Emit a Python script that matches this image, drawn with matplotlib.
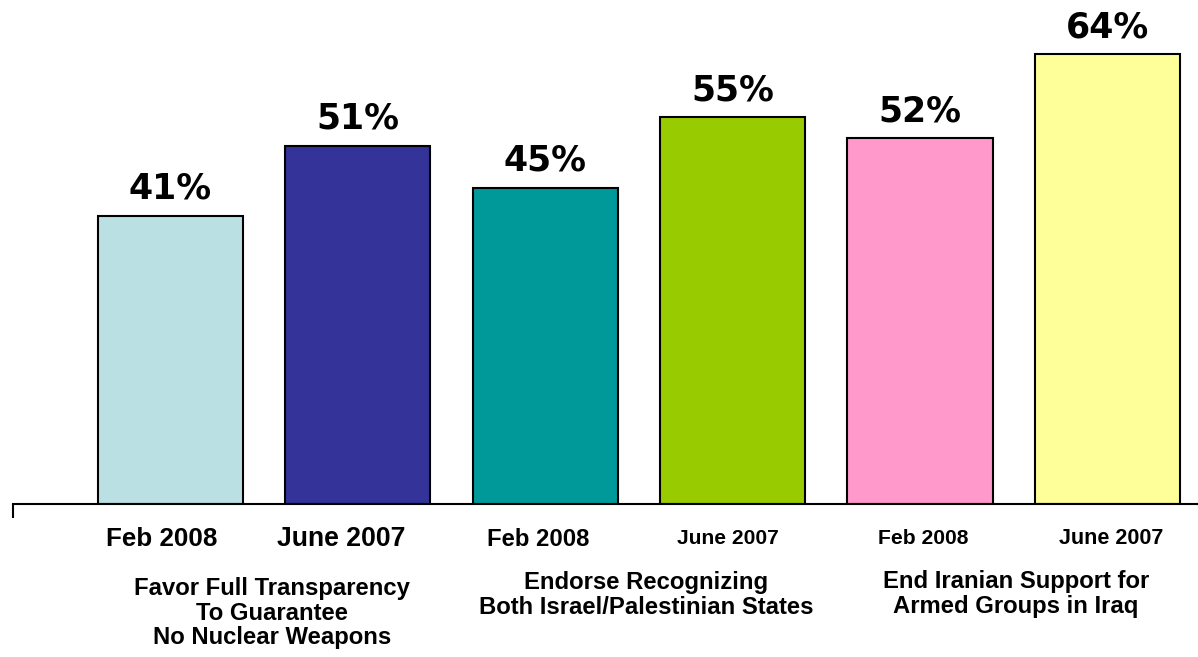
import os
import matplotlib.pyplot as plt
from matplotlib import font_manager as fm
from matplotlib.ticker import FixedLocator

# survey results, percent
periods = ["Feb 2008", "June 2007", "Feb 2008", "June 2007", "Feb 2008", "June 2007"]
values = [41, 51, 45, 55, 52, 64]
groups = [
    "Favor Full Transparency\nTo Guarantee\nNo Nuclear Weapons",
    "Endorse Recognizing\nBoth Israel/Palestinian States",
    "End Iranian Support for\nArmed Groups in Iraq",
]

colors = ["#BBE0E3", "#333399", "#009999", "#99CC00", "#FF99CC", "#FFFF99"]
period_sizes = [18.7, 19.2, 17.2, 15.1, 15.2, 15.5]
period_shift = [-0.047, -0.087, -0.039, -0.025, 0.017, 0.02]

# pick the regular-width Liberation Sans Bold
bold_file = None
for f in fm.findSystemFonts():
    if os.path.basename(f) == "LiberationSans-Bold.ttf":
        bold_file = f
        break


def bold(size):
    if bold_file:
        return fm.FontProperties(fname=bold_file, size=size)
    return fm.FontProperties(family="DejaVu Sans", weight="bold", size=size)


W, H = 1198, 657
fig = plt.figure(figsize=(W / 100, H / 100), dpi=100)
ax = fig.add_axes([13 / W, 153 / H, (W - 13) / W, 504 / H])

x = list(range(len(values)))
bars = ax.bar(x, values, width=0.775, color=colors, edgecolor="black", linewidth=1.5)

for bar, v in zip(bars, values):
    ax.annotate(f"{v}%", (bar.get_x() + bar.get_width() / 2, v),
                xytext=(0, 19.5), textcoords="offset points",
                ha="center", va="center", fontsize=25, fontweight="bold",
                family="DejaVu Sans")

ax.set_xlim(-0.84, 5.483)
ax.set_ylim(0, 71.7)

for s in ["top", "right", "left"]:
    ax.spines[s].set_visible(False)
ax.spines["bottom"].set_linewidth(1.5)
ax.set_yticks([])

ax.set_xticks([])
ax.xaxis.set_minor_locator(FixedLocator([-0.84]))
ax.tick_params(axis="x", which="minor", length=10, width=1.5, direction="out")

trans = ax.get_xaxis_transform()
for i, (lab, fs, dx) in enumerate(zip(periods, period_sizes, period_shift)):
    ax.text(i + dx, -35 / 504, lab, transform=trans, ha="center", va="center",
            fontproperties=bold(fs))

for lab, gx, top in zip(groups, [0.54, 2.54, 4.51], [577, 571, 570]):
    ax.text(gx, -(top - 504) / 504, lab, transform=trans, ha="center", va="top",
            fontproperties=bold(17.2), linespacing=1.09, clip_on=False)

fig.savefig("out.png", dpi=100)
